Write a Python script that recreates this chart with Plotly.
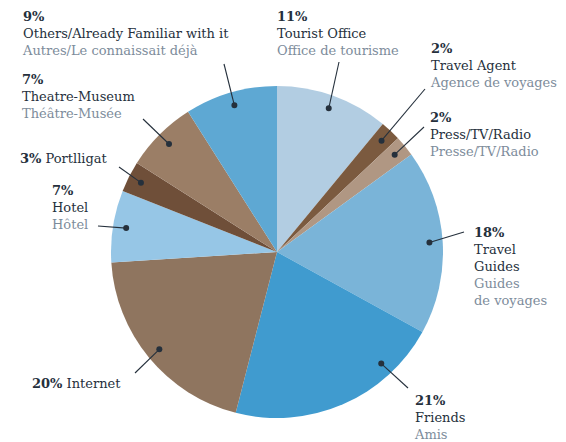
import math
import plotly.graph_objects as go

# Sources of information, clockwise from 12 o'clock
labels_en = ["Tourist Office", "Travel Agent", "Press/TV/Radio", "Travel<br>Guides",
             "Friends", "Internet", "Hotel", "Portlligat", "Theatre-Museum",
             "Others/Already Familiar with it"]
labels_fr = ["Office de tourisme", "Agence de voyages", "Presse/TV/Radio",
             "Guides<br>de voyages", "Amis", "", "Hôtel", "", "Théâtre-Musée",
             "Autres/Le connaissait déjà"]
shares = [11, 2, 2, 18, 21, 20, 7, 3, 7, 9]
colors = ["#b2cde2", "#7b5a3f", "#b09783", "#7ab4d8", "#409bcf",
          "#8f755f", "#96c6e6", "#6f4f39", "#9b7e66", "#5ea8d3"]

# Layout: figure size, pie centre and radius in pixels
W, H = 566, 442
CX, CY, R = 277, 252, 166
# where the leader-line dot sits inside each slice (fraction of the slice sweep)
dot_frac = [0.5, 0.5, 0.5, 0.5, 0.24, 0.5, 0.5, 0.5, 0.5, 0.5]
DOT_R = 0.92
# leader-line outer ends and label anchors (pixels, y down)
line_ends = [(339, 62), (425, 89), (424, 127), (464, 232), (408, 388),
             (135, 373), (98, 226), (119, 167), (143, 119), (224, 64)]
label_pos = [(277, 16), (430, 48), (430, 117), (474, 232), (414, 400),
             (32, 383), (52, 190), (20, 158), (22, 79), (22, 16)]
inline = [False, False, False, False, False, True, False, True, False, False]

DARK = "#25303c"
GREY = "#7d8c9b"
FONT = "DejaVu Serif"
FS = 13

fig = go.Figure()
fig.add_trace(go.Pie(
    values=shares, labels=[l.replace("<br>", " ") for l in labels_en],
    marker=dict(colors=colors, line=dict(width=0)),
    sort=False, direction="clockwise", rotation=0,
    textinfo="none", hoverinfo="label+percent", showlegend=False,
    domain=dict(x=[(CX - R) / W, (CX + R) / W],
                y=[(H - CY - R) / H, (H - CY + R) / H]),
))

# leader lines and dots, placed from the cumulative shares
total = sum(shares)
cum = 0
for i, v in enumerate(shares):
    a = 2 * math.pi * (cum + v * dot_frac[i]) / total
    cum += v
    dx = CX + DOT_R * R * math.sin(a)
    dy = CY - DOT_R * R * math.cos(a)
    ex, ey = line_ends[i]
    fig.add_shape(type="line", x0=dx, y0=dy, x1=ex, y1=ey,
                  xref="x", yref="y", layer="above",
                  line=dict(color=DARK, width=1.1))
    fig.add_shape(type="circle", x0=dx - 3, y0=dy - 3, x1=dx + 3, y1=dy + 3,
                  xref="x", yref="y", layer="above",
                  fillcolor=DARK, line=dict(width=0))

for i in range(len(shares)):
    pct = f"<b>{shares[i]}%</b>"
    if inline[i]:
        txt = f"{pct} {labels_en[i]}"
    else:
        txt = f"{pct}<br>{labels_en[i]}"
        if labels_fr[i]:
            txt += f"<br><span style='color:{GREY}'>{labels_fr[i]}</span>"
    x, y = label_pos[i]
    fig.add_annotation(x=x - 2, y=y - 9.5, text=txt, showarrow=False,
                       xanchor="left", yanchor="top", align="left",
                       xref="x", yref="y",
                       font=dict(family=FONT, size=FS, color=DARK))

fig.update_xaxes(range=[0, W], visible=False, fixedrange=True)
fig.update_yaxes(range=[H, 0], visible=False, fixedrange=True)
fig.update_layout(width=W, height=H, margin=dict(l=0, r=0, t=0, b=0),
                  paper_bgcolor="white", plot_bgcolor="rgba(0,0,0,0)",
                  font=dict(family=FONT, color=DARK))
fig.write_html("out.html")
